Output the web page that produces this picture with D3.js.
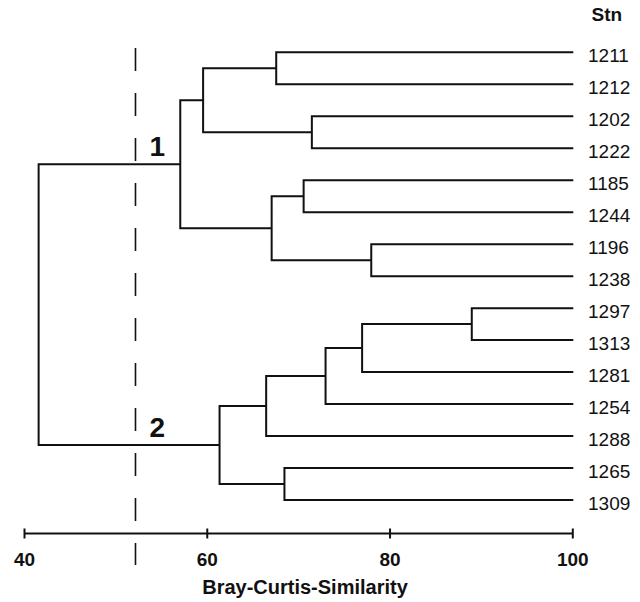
<!DOCTYPE html>
<html>
<head>
<meta charset="utf-8">
<script src="https://cdn.jsdelivr.net/npm/d3@7"></script>
<style>
  body { margin: 0; background: #fff; }
  text { font-family: "Liberation Sans", Arial, sans-serif; fill: #111; }
</style>
</head>
<body>
<div id="chart"></div>
<script>
// stations, top to bottom
const stations = ["1211", "1212", "1202", "1222", "1185", "1244", "1196", "1238",
                  "1297", "1313", "1281", "1254", "1288", "1265", "1309"]

// merges: [left, right, similarity]; "m<i>" refers to the i-th merge
const linkage = [
    ["1211", "1212", 67.6],   // m0
    ["1202", "1222", 71.5],   // m1
    ["m0", "m1", 59.6],       // m2
    ["1185", "1244", 70.6],   // m3
    ["1196", "1238", 78.0],   // m4
    ["m3", "m4", 67.1],       // m5
    ["m2", "m5", 57.1],       // m6  cluster 1
    ["1297", "1313", 89.0],   // m7
    ["m7", "1281", 77.0],     // m8
    ["m8", "1254", 73.0],     // m9
    ["m9", "1288", 66.5],     // m10
    ["1265", "1309", 68.5],   // m11
    ["m10", "m11", 61.4],     // m12 cluster 2
    ["m6", "m12", 41.6]       // m13 root
]

const clusters = [["1", "m6"], ["2", "m12"]]
const cutLevel = 52.2
const xTicks = [40, 60, 80, 100]
const xTitle = "Bray-Curtis-Similarity"
const leafHeader = "Stn"

const width = 640, height = 602

const svg = d3.select("#chart").append("svg")
    .attr("width", width)
    .attr("height", height)

const xScale = d3.scaleLinear()
    .domain([40, 100])
    .range([24, 572.3])

const yScale = d3.scalePoint()
    .domain(stations)
    .range([52.3, 500])

// build node table
const nodes = {}
stations.forEach(s => nodes[s] = { id: s, sim: 100, y: yScale(s), leaf: true })
linkage.forEach(([a, b, sim], i) => {
    const l = nodes[a], r = nodes[b]
    nodes["m" + i] = { id: "m" + i, sim, children: [l, r], y: (l.y + r.y) / 2 }
})

const path = d3.path()
Object.values(nodes).forEach(n => {
    if (!n.children) return
    const x = xScale(n.sim)
    const [l, r] = n.children
    path.moveTo(xScale(l.sim) + (l.leaf ? 1 : 0), l.y)
    path.lineTo(x, l.y)
    path.lineTo(x, r.y)
    path.lineTo(xScale(r.sim) + (r.leaf ? 1 : 0), r.y)
})

svg.append("path")
    .attr("d", path.toString())
    .attr("fill", "none")
    .attr("stroke", "#111")
    .attr("stroke-width", 2)

// dashed cut line
svg.append("line")
    .attr("x1", xScale(cutLevel)).attr("x2", xScale(cutLevel))
    .attr("y1", 48).attr("y2", 565)
    .attr("stroke", "#111")
    .attr("stroke-width", 1.6)
    .attr("stroke-dasharray", "23,22")

// cluster numbers
svg.selectAll(".cluster-label")
    .data(clusters)
    .join("text")
    .attr("class", "cluster-label")
    .attr("x", xScale(cutLevel) + 14)
    .attr("y", d => nodes[d[1]].y - 8)
    .style("font-size", "28px")
    .style("font-weight", "bold")
    .text(d => d[0])

// station labels
svg.selectAll(".leaf-label")
    .data(stations)
    .join("text")
    .attr("class", "leaf-label")
    .attr("x", 588)
    .attr("y", d => yScale(d) + 9.5)
    .style("font-size", "19px")
    .text(d => d)

svg.append("text")
    .attr("x", 591.5)
    .attr("y", 20.7)
    .style("font-size", "19px")
    .style("font-weight", "bold")
    .text(leafHeader)

// x axis
const axisY = 533.5
const xAxis = d3.axisBottom(xScale)
    .tickValues(xTicks)
    .tickSizeOuter(0)
    .tickSize(4)

const xGroup = svg.append("g")
    .attr("transform", `translate(0, ${axisY})`)
    .call(xAxis)

xGroup.select(".domain")
    .attr("d", `M${xScale(40)},0H${xScale(100)}`)
    .attr("stroke", "#111")
    .attr("stroke-width", 2)
xGroup.selectAll(".tick line")
    .attr("y1", -5).attr("y2", 5)
    .attr("stroke", "#111")
    .attr("stroke-width", 2)
xGroup.selectAll(".tick text")
    .attr("y", 32.5)
    .attr("dy", 0)
    .style("font-family", "'Liberation Sans', Arial, sans-serif")
    .style("font-size", "19px")
    .style("font-weight", "bold")
    .attr("fill", "#111")

svg.append("text")
    .attr("x", 305)
    .attr("y", 593.5)
    .attr("text-anchor", "middle")
    .style("font-size", "20px")
    .style("font-weight", "bold")
    .text(xTitle)
</script>
</body>
</html>
